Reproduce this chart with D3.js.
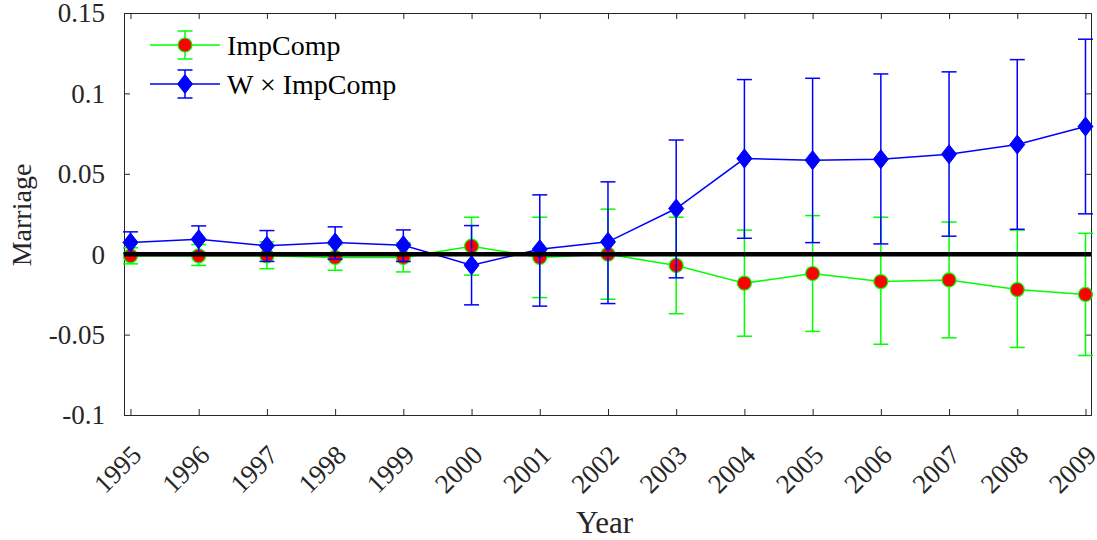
<!DOCTYPE html>
<html>
<head>
<meta charset="utf-8">
<script src="https://cdn.jsdelivr.net/npm/d3@7"></script>
<style>
  body { margin: 0; background: #fff; }
  text { font-family: "Liberation Serif", "Times New Roman", serif; fill: #262626; }
</style>
</head>
<body>
<svg id="chart" width="1097" height="540"></svg>
<script>
const years = [1995,1996,1997,1998,1999,2000,2001,2002,2003,2004,2005,2006,2007,2008,2009];
const impComp   = [-0.001,-0.001,-0.001,-0.002,-0.002,0.005,-0.002,0.000,-0.007,-0.018,-0.012,-0.017,-0.016,-0.022,-0.025];
const impCompLo = [-0.006,-0.007,-0.009,-0.010,-0.011,-0.013,-0.027,-0.028,-0.037,-0.051,-0.048,-0.056,-0.052,-0.058,-0.063];
const impCompHi = [0.004,0.006,0.0077,0.006,0.007,0.023,0.023,0.028,0.023,0.015,0.024,0.023,0.020,0.015,0.013];
const wImpComp   = [0.0073,0.0093,0.0052,0.0073,0.0056,-0.0068,0.0031,0.0077,0.0284,0.0595,0.0585,0.0591,0.0622,0.0682,0.0794];
const wImpCompLo = [0.0007,0.001,-0.0045,-0.0031,-0.0045,-0.0315,-0.0323,-0.0307,-0.0147,0.0099,0.0072,0.0064,0.0112,0.0155,0.0251];
const wImpCompHi = [0.0139,0.0176,0.0147,0.017,0.0151,0.0178,0.0369,0.045,0.071,0.1086,0.1094,0.1121,0.1134,0.121,0.1337];
const yTicks = [-0.1,-0.05,0,0.05,0.1,0.15];
const yTickLabels = ["-0.1","-0.05","0","0.05","0.1","0.15"];
const seriesNames = ["ImpComp","W \u00D7 ImpComp"];

const svg = d3.select("#chart");
const L = 124, R = 1091, T = 13, B = 415;
const x = d3.scaleLinear().domain([1994.905, 2009.081]).range([L, R]);
const y = d3.scaleLinear().domain([-0.1, 0.15]).range([B, T]);
const axisColor = "#262626";

// Axes (box with inward ticks)
const gx = svg.append("g").attr("transform", `translate(0,${B})`)
  .call(d3.axisBottom(x).tickValues(years).tickSize(-6).tickFormat(""));
const gxt = svg.append("g").attr("transform", `translate(0,${T})`)
  .call(d3.axisTop(x).tickValues(years).tickSize(-6).tickFormat(""));
const gy = svg.append("g").attr("transform", `translate(${L},0)`)
  .call(d3.axisLeft(y).tickValues(yTicks).tickSize(-6).tickFormat(""));
const gyr = svg.append("g").attr("transform", `translate(${R},0)`)
  .call(d3.axisRight(y).tickValues(yTicks).tickSize(-6).tickFormat(""));
[gx,gxt,gy,gyr].forEach(g => {
  g.select(".domain").attr("stroke", axisColor).attr("stroke-width", 1);
  g.selectAll(".tick line").attr("stroke", axisColor).attr("stroke-width", 1);
});

// Y tick labels
svg.append("g").selectAll("text").data(yTicks).join("text")
  .attr("x", L - 19).attr("y", d => y(d)).attr("dy", "0.35em")
  .attr("text-anchor", "end").attr("font-size", 27)
  .text((d,i) => yTickLabels[i]);

// X tick labels (rotated)
svg.append("g").selectAll("text").data(years).join("text")
  .attr("transform", d => `translate(${x(d) + 6},${B + 35}) rotate(-45)`)
  .attr("text-anchor", "end").attr("dy", "0.35em").attr("font-size", 27)
  .text(d => d);

// Axis titles
svg.append("text").attr("x", (L + R) / 2 - 3).attr("y", 533)
  .attr("text-anchor", "middle").attr("font-size", 31).text("Year");
svg.append("text").attr("transform", `translate(31,${(T + B) / 2 + 1}) rotate(-90)`)
  .attr("text-anchor", "middle").attr("font-size", 28).text("Marriage");

const capW = 7.5;
function drawSeries(vals, lo, hi, color, markerFn) {
  const g = svg.append("g");
  g.append("path").datum(years.map((yr,i)=>[yr, vals[i]]))
    .attr("fill", "none").attr("stroke", color).attr("stroke-width", 1.5)
    .attr("d", d3.line().x(d => x(d[0])).y(d => y(d[1])));
  const eb = g.selectAll("g.eb").data(years).join("g");
  eb.append("line").attr("x1", d => x(d)).attr("x2", d => x(d))
    .attr("y1", (d,i) => y(lo[i])).attr("y2", (d,i) => y(hi[i]))
    .attr("stroke", color).attr("stroke-width", 1.5);
  eb.append("line").attr("x1", d => x(d) - capW).attr("x2", d => x(d) + capW)
    .attr("y1", (d,i) => y(lo[i])).attr("y2", (d,i) => y(lo[i]))
    .attr("stroke", color).attr("stroke-width", 1.5);
  eb.append("line").attr("x1", d => x(d) - capW).attr("x2", d => x(d) + capW)
    .attr("y1", (d,i) => y(hi[i])).attr("y2", (d,i) => y(hi[i]))
    .attr("stroke", color).attr("stroke-width", 1.5);
  years.forEach((yr,i) => markerFn(g, x(yr), y(vals[i])));
}
function circleMarker(g, cx, cy) {
  g.append("circle").attr("cx", cx).attr("cy", cy).attr("r", 7)
    .attr("fill", "#ff0000").attr("stroke", "#00ff00").attr("stroke-width", 1.2);
}
function diamondMarker(g, cx, cy) {
  g.append("path").attr("d", `M${cx},${cy-9.5}L${cx+7.5},${cy}L${cx},${cy+9.5}L${cx-7.5},${cy}Z`)
    .attr("fill", "#0000ff").attr("stroke", "#0000ff").attr("stroke-width", 1);
}

drawSeries(impComp, impCompLo, impCompHi, "#00ff00", circleMarker);
drawSeries(wImpComp, wImpCompLo, wImpCompHi, "#0000ff", diamondMarker);

// Zero line
svg.append("line").attr("x1", L).attr("x2", R).attr("y1", y(0)).attr("y2", y(0))
  .attr("stroke", "#000").attr("stroke-width", 4.5);

// Legend
const leg = svg.append("g");
const legItems = [
  {name: seriesNames[0], color: "#00ff00", marker: circleMarker, y: 45},
  {name: seriesNames[1], color: "#0000ff", marker: diamondMarker, y: 84}
];
legItems.forEach(it => {
  leg.append("line").attr("x1", 150).attr("x2", 220).attr("y1", it.y).attr("y2", it.y)
    .attr("stroke", it.color).attr("stroke-width", 1.5);
  leg.append("line").attr("x1", 185).attr("x2", 185).attr("y1", it.y - 14).attr("y2", it.y + 14)
    .attr("stroke", it.color).attr("stroke-width", 1.5);
  [-14, 14].forEach(o => leg.append("line").attr("x1", 185 - capW).attr("x2", 185 + capW)
    .attr("y1", it.y + o).attr("y2", it.y + o).attr("stroke", it.color).attr("stroke-width", 1.5));
  it.marker(leg, 185, it.y);
  leg.append("text").attr("x", 227).attr("y", it.y).attr("dy", "0.35em")
    .attr("font-size", 28).style("fill", "#000").text(it.name);
});
</script>
</body>
</html>
